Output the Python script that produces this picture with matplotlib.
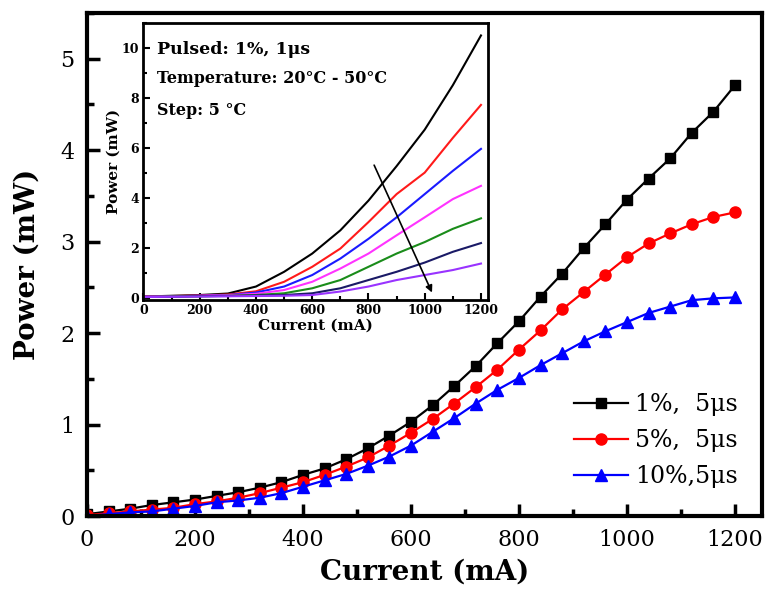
import matplotlib
matplotlib.use("Agg")
import matplotlib.pyplot as plt
from matplotlib.ticker import MultipleLocator

plt.rcParams['font.family'] = ['DejaVu Serif']
plt.rcParams['mathtext.fontset'] = 'dejavuserif'

# main data: current (mA) vs output power (mW)
current = [0, 40, 80, 120, 160, 200, 240, 280, 320, 360, 400, 440, 480, 520, 560, 600,
           640, 680, 720, 760, 800, 840, 880, 920, 960, 1000, 1040, 1080, 1120, 1160, 1200]
p_1pct = [0.02, 0.05, 0.08, 0.12, 0.15, 0.18, 0.22, 0.26, 0.31, 0.37, 0.45, 0.52, 0.62, 0.74, 0.88, 1.03,
          1.21, 1.42, 1.64, 1.89, 2.13, 2.40, 2.65, 2.93, 3.19, 3.46, 3.69, 3.91, 4.19, 4.42, 4.71]
p_5pct = [0.01, 0.03, 0.05, 0.07, 0.09, 0.13, 0.16, 0.20, 0.25, 0.31, 0.37, 0.45, 0.54, 0.64, 0.77, 0.91,
          1.06, 1.23, 1.41, 1.60, 1.82, 2.03, 2.26, 2.45, 2.64, 2.83, 2.98, 3.09, 3.19, 3.27, 3.32]
p_10pct = [0.0, 0.02, 0.04, 0.05, 0.08, 0.11, 0.15, 0.17, 0.20, 0.25, 0.32, 0.39, 0.46, 0.55, 0.65, 0.77,
           0.92, 1.07, 1.23, 1.38, 1.51, 1.65, 1.78, 1.91, 2.02, 2.12, 2.22, 2.29, 2.36, 2.38, 2.39]
labels = ['1%,  5μs', '5%,  5μs', '10%,5μs']

# inset data: temperature sweep 20..50 C
inset_current = [0, 100, 200, 300, 400, 500, 600, 700, 800, 900, 1000, 1100, 1200]
inset_curves = [
    [0.04, 0.07, 0.10, 0.16, 0.44, 1.03, 1.76, 2.69, 3.88, 5.26, 6.72, 8.50, 10.49],
    [0.04, 0.06, 0.08, 0.12, 0.25, 0.63, 1.23, 1.96, 3.02, 4.14, 5.00, 6.39, 7.71],
    [0.03, 0.05, 0.07, 0.10, 0.20, 0.44, 0.90, 1.56, 2.35, 3.21, 4.14, 5.07, 5.95],
    [0.03, 0.05, 0.07, 0.09, 0.15, 0.30, 0.63, 1.16, 1.76, 2.49, 3.21, 3.94, 4.47],
    [0.02, 0.04, 0.05, 0.07, 0.10, 0.17, 0.37, 0.70, 1.23, 1.76, 2.22, 2.75, 3.17],
    [0.02, 0.03, 0.05, 0.06, 0.08, 0.10, 0.17, 0.37, 0.70, 1.03, 1.40, 1.83, 2.18],
    [0.02, 0.03, 0.04, 0.05, 0.06, 0.07, 0.10, 0.24, 0.44, 0.70, 0.90, 1.10, 1.36],
]
inset_colors = ['black', '#ff1a1a', '#1a1aff', '#ff33ff', '#1a8c1a', '#1a1a66', '#9933ff']

fig = plt.figure(figsize=(7.69, 5.96), dpi=100, facecolor='white')
ax = fig.add_axes([0.1131, 0.1342, 0.8778, 0.8440])

ax.plot(current, p_1pct, color='black', marker='s', markersize=7, linewidth=1.6, label=labels[0])
ax.plot(current, p_5pct, color='#ff0000', marker='o', markersize=8, linewidth=1.6, label=labels[1])
ax.plot(current, p_10pct, color='#0000ff', marker='^', markersize=8, linewidth=1.6, label=labels[2])

ax.set_xlim(0, 1250)
ax.set_ylim(0, 5.5)
ax.xaxis.set_major_locator(MultipleLocator(200))
ax.xaxis.set_minor_locator(MultipleLocator(100))
ax.yaxis.set_major_locator(MultipleLocator(1))
ax.yaxis.set_minor_locator(MultipleLocator(0.5))
ax.tick_params(which='both', direction='in', top=False, right=False, labelsize=16, pad=9)
ax.tick_params(which='major', length=9, width=2.5)
ax.tick_params(which='minor', length=5, width=2.5)
for s in ax.spines.values():
    s.set_linewidth(3)

ax.set_xlabel('Current (mA)', fontsize=20, fontweight='bold', labelpad=6)
ax.set_ylabel('Power (mW)', fontsize=20, fontweight='bold', labelpad=14)

leg = ax.legend(loc='center left', bbox_to_anchor=(0.69, 0.15), frameon=False,
                fontsize=17, handlelength=2.3, handletextpad=0.3, labelspacing=0.55)

# inset
ins = fig.add_axes([0.1866, 0.4966, 0.4480, 0.4653])
for y, c in zip(inset_curves, inset_colors):
    ins.plot(inset_current, y, color=c, linewidth=1.5)
ins.set_xlim(0, 1225)
ins.set_ylim(-0.1, 11)
ins.xaxis.set_major_locator(MultipleLocator(200))
ins.xaxis.set_minor_locator(MultipleLocator(100))
ins.yaxis.set_major_locator(MultipleLocator(2))
ins.yaxis.set_minor_locator(MultipleLocator(1))
ins.tick_params(which='both', direction='in', labelsize=9, pad=3)
ins.tick_params(which='major', length=5, width=1.5)
ins.tick_params(which='minor', length=3, width=1.5)
for t in ins.get_xticklabels() + ins.get_yticklabels():
    t.set_fontweight('bold')
for s in ins.spines.values():
    s.set_linewidth(2)
ins.set_xlabel('Current (mA)', fontsize=11, fontweight='bold', labelpad=1)
ins.set_ylabel('Power (mW)', fontsize=11, fontweight='bold', labelpad=1)

ins.annotate('', xy=(1030, 0.1), xytext=(816, 5.4),
             arrowprops=dict(arrowstyle='-|>', color='black', lw=1.2, mutation_scale=10))
ins.text(0.04, 0.905, 'Pulsed: 1%, 1μs', transform=ins.transAxes, fontsize=12.5,
         fontweight='bold', va='center', ha='left')
ins.text(0.04, 0.80, 'Temperature: 20°C - 50°C', transform=ins.transAxes, fontsize=11.5,
         fontweight='bold', va='center', ha='left')
ins.text(0.04, 0.685, 'Step: 5 °C', transform=ins.transAxes, fontsize=11.5,
         fontweight='bold', va='center', ha='left')

fig.savefig('out.png', dpi=100)
